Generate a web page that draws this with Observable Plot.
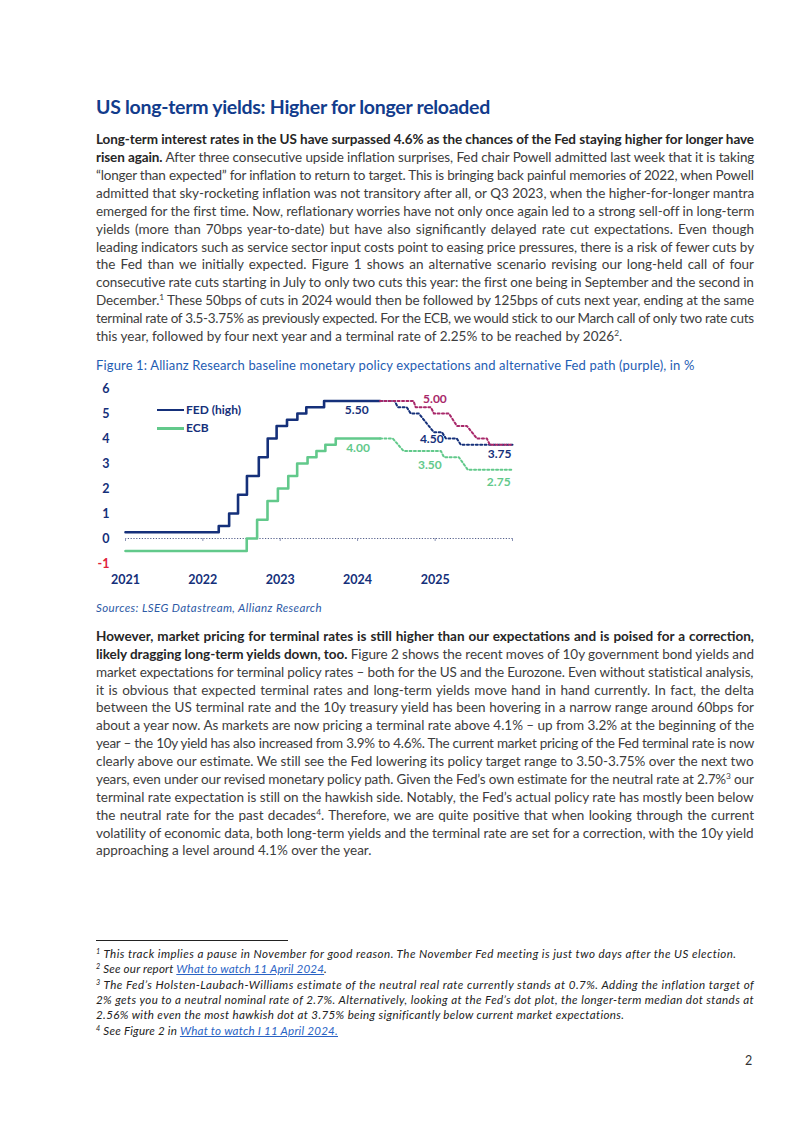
<!DOCTYPE html>
<html><head><meta charset="utf-8">
<script src="https://cdn.jsdelivr.net/npm/d3@7"></script>
<script src="https://cdn.jsdelivr.net/npm/@observablehq/plot@0.6"></script>
<style>
body{margin:0;background:#fff;}
#page{position:relative;width:802px;height:1133px;overflow:hidden;font-family:Lato,"Open Sans",sans-serif;background:#fff;}
.ln{position:absolute;left:96px;white-space:nowrap;line-height:18px;height:18px;}
.body{font-size:13.5px;color:#3d3d3d;}
.body b{color:#262626;font-weight:700;}
sup{font-size:0.62em;line-height:0;vertical-align:0.55em;}
.fn{font-size:11.6px;font-style:italic;color:#222;line-height:15px;height:15px;}
.fn a{color:#2a63c4;text-decoration:underline;}
#title{position:absolute;left:96px;font-size:19.5px;font-weight:700;color:#123c8c;white-space:nowrap;line-height:24px;}
.caption{font-size:13px;color:#1f5db3;}
.sources{font-size:11.5px;font-style:italic;color:#2d5aa6;}
#chart{position:absolute;left:90px;top:378px;}
.leg{position:absolute;font-size:12px;font-weight:700;color:#15307a;white-space:nowrap;line-height:14px;}
.legline{position:absolute;height:2.6px;}
</style></head>
<body><div id="page"></div>
<script>
// ---------------- data ----------------
const fedDates = ["2021-01-01","2022-03-17","2022-05-05","2022-06-16","2022-07-28","2022-09-22","2022-11-03","2022-12-15","2023-02-02","2023-03-23","2023-05-04","2023-07-27","2024-04-16"];
const fedValues = [0.25,0.5,1.0,1.75,2.5,3.25,4.0,4.5,4.75,5.0,5.25,5.5,5.5];
const ecbDates = ["2021-01-01","2022-07-27","2022-09-14","2022-11-02","2022-12-21","2023-02-08","2023-03-22","2023-05-10","2023-06-21","2023-08-02","2023-09-20","2024-04-16"];
const ecbValues = [-0.5,0.0,0.75,1.5,2.0,2.5,3.0,3.25,3.5,3.75,4.0,4.0];
const fedBaseDates = ["2024-04-16","2024-06-24","2024-07-09","2024-08-20","2024-09-08","2024-10-16","2024-12-02","2024-12-26","2025-02-02","2025-02-21","2025-04-13","2025-05-02","2026-01-01"];
const fedBaseValues = [5.5,5.5,5.25,5.25,5.0,5.0,4.5,4.25,4.25,4.0,4.0,3.75,3.75];
const fedAltDates = ["2024-04-16","2024-09-21","2024-10-01","2024-12-12","2024-12-26","2025-03-07","2025-04-14","2025-05-31","2025-07-17","2025-09-02","2025-09-16","2026-01-01"];
const fedAltValues = [5.5,5.5,5.25,5.25,5.0,5.0,4.5,4.5,4.0,4.0,3.75,3.75];
const ecbProjDates = ["2024-04-16","2024-06-15","2024-08-05","2025-01-28","2025-02-12","2025-04-23","2025-06-04","2026-01-01"];
const ecbProjValues = [4.0,4.0,3.5,3.5,3.25,3.25,2.75,2.75];
const labelTexts = ["5.50","4.00","5.00","4.50","3.75","3.50","2.75"];
const labelDates = ["2023-12-28","2024-01-03","2024-12-31","2024-12-16","2025-11-01","2024-12-07","2025-10-28"];
const labelValues = [5.12,3.61,5.59,3.99,3.36,2.95,2.25];
const labelSeries = ["fed","ecb","alt","fed","fed","ecb","ecb"];
const yearTicks = ["2021","2022","2023","2024","2025"];
const gridYears = ["2021","2022","2023","2024","2025","2026"];
const yTicks = [0,1,2,3,4,5,6];
const yNegTicks = [-1];
const legendNames = ["FED (high)","ECB"];

const titleText = "US long-term yields: Higher for longer reloaded";
const p1Lines = [
 "<b>Long-term interest rates in the US have surpassed 4.6% as the chances of the Fed staying higher for longer have</b>",
 "<b>risen again.</b> After three consecutive upside inflation surprises, Fed chair Powell admitted last week that it is taking",
 "“longer than expected” for inflation to return to target. This is bringing back painful memories of 2022, when Powell",
 "admitted that sky-rocketing inflation was not transitory after all, or Q3 2023, when the higher-for-longer mantra",
 "emerged for the first time. Now, reflationary worries have not only once again led to a strong sell-off in long-term",
 "yields (more than 70bps year-to-date) but have also significantly delayed rate cut expectations. Even though",
 "leading indicators such as service sector input costs point to easing price pressures, there is a risk of fewer cuts by",
 "the Fed than we initially expected. Figure 1 shows an alternative scenario revising our long-held call of four",
 "consecutive rate cuts starting in July to only two cuts this year: the first one being in September and the second in",
 "December.<sup>1</sup> These 50bps of cuts in 2024 would then be followed by 125bps of cuts next year, ending at the same",
 "terminal rate of 3.5-3.75% as previously expected. For the ECB, we would stick to our March call of only two rate cuts",
 "this year, followed by four next year and a terminal rate of 2.25% to be reached by 2026<sup>2</sup>."
];
const captionText = "Figure 1: Allianz Research baseline monetary policy expectations and alternative Fed path (purple), in %";
const sourcesText = "Sources: LSEG Datastream, Allianz Research";
const p2Lines = [
 "<b>However, market pricing for terminal rates is still higher than our expectations and is poised for a correction,</b>",
 "<b>likely dragging long-term yields down, too.</b> Figure 2 shows the recent moves of 10y government bond yields and",
 "market expectations for terminal policy rates – both for the US and the Eurozone. Even without statistical analysis,",
 "it is obvious that expected terminal rates and long-term yields move hand in hand currently. In fact, the delta",
 "between the US terminal rate and the 10y treasury yield has been hovering in a narrow range around 60bps for",
 "about a year now. As markets are now pricing a terminal rate above 4.1% – up from 3.2% at the beginning of the",
 "year – the 10y yield has also increased from 3.9% to 4.6%. The current market pricing of the Fed terminal rate is now",
 "clearly above our estimate. We still see the Fed lowering its policy target range to 3.50-3.75% over the next two",
 "years, even under our revised monetary policy path. Given the Fed’s own estimate for the neutral rate at 2.7%<sup>3</sup> our",
 "terminal rate expectation is still on the hawkish side. Notably, the Fed’s actual policy rate has mostly been below",
 "the neutral rate for the past decades<sup>4</sup>. Therefore, we are quite positive that when looking through the current",
 "volatility of economic data, both long-term yields and the terminal rate are set for a correction, with the 10y yield",
 "approaching a level around 4.1% over the year."
];
const fnLines = [
 "<sup>1</sup> This track implies a pause in November for good reason. The November Fed meeting is just two days after the US election.",
 "<sup>2</sup> See our report <a>What to watch 11 April 2024</a>.",
 "<sup>3</sup> The Fed’s Holsten-Laubach-Williams estimate of the neutral real rate currently stands at 0.7%. Adding the inflation target of",
 "2% gets you to a neutral nominal rate of 2.7%. Alternatively, looking at the Fed’s dot plot, the longer-term median dot stands at",
 "2.56% with even the most hawkish dot at 3.75% being significantly below current market expectations.",
 "<sup>4</sup> See Figure 2 in <a>What to watch I 11 April 2024.</a>"
];
const fnWidths = [640, 231, 658, 658, 528, 242];
const pageNumber = "2";

// ---------------- colors ----------------
const NAVY = "#15307a", GREEN = "#62c98b", PURPLE = "#a8286a", RED = "#e0213b";
const colorOf = {fed: NAVY, ecb: GREEN, alt: PURPLE};

const page = document.getElementById("page");
function addLine(html, cls, y, h, target, mode) {
  const d = document.createElement("div");
  d.className = "ln " + cls;
  d.style.top = (y - h / 2) + "px";
  d.innerHTML = "<span>" + html + "</span>";
  page.appendChild(d);
  const sp = d.firstChild;
  const w = sp.getBoundingClientRect().width;
  const txt = sp.textContent;
  const nChars = txt.length;
  const nSpaces = (txt.match(/ /g) || []).length;
  if (target) {
    if (w > target || mode === "exact") {
      sp.style.letterSpacing = ((target - w) / nChars) + "px";
    } else if (mode === "justify" && nSpaces > 0) {
      sp.style.wordSpacing = ((target - w) / nSpaces) + "px";
    }
  }
  return d;
}

// title
const t = document.createElement("div");
t.id = "title"; t.style.top = (107 - 12) + "px";
t.innerHTML = "<span>" + titleText + "</span>";
page.appendChild(t);
{ const sp = t.firstChild; const w = sp.getBoundingClientRect().width;
  sp.style.letterSpacing = ((394 - w) / titleText.length) + "px"; }

const LH = 17.87;
p1Lines.forEach((l, i) => addLine(l, "body", 139.3 + i * LH, 18, 658, i === p1Lines.length - 1 ? "fit" : "justify"));
addLine(captionText, "caption", 364.5, 18, 599, "exact");
addLine(sourcesText, "sources", 607.5, 18, 226, "exact");
p2Lines.forEach((l, i) => addLine(l, "body", 636 + i * LH, 18, 658, i === p2Lines.length - 1 ? "fit" : "justify"));

// footnote rule
const rule = document.createElement("div");
rule.style.cssText = "position:absolute;left:96px;top:940px;width:192px;height:1px;background:#222;";
page.appendChild(rule);
fnLines.forEach((l, i) => addLine(l, "fn", 953.5 + i * 15.3, 15, fnWidths[i], "exact"));

const pn = document.createElement("div");
pn.style.cssText = "position:absolute;left:745px;top:1053px;font-size:12.5px;color:#333;";
pn.textContent = pageNumber;
page.appendChild(pn);

// ---------------- chart ----------------
const P = d3.timeParse("%Y-%m-%d");
const mk = (dates, vals) => dates.map((d, i) => ({date: P(d), value: vals[i]}));
const fed = mk(fedDates, fedValues);
const ecb = mk(ecbDates, ecbValues);
const fedBase = mk(fedBaseDates, fedBaseValues);
const fedAlt = mk(fedAltDates, fedAltValues);
const ecbProj = mk(ecbProjDates, ecbProjValues);
const labels = labelTexts.map((s, i) => ({text: s, date: P(labelDates[i]), value: labelValues[i], series: labelSeries[i]}));
const Y = d3.timeParse("%Y");
const DOTS = "2,2.4";

const chart = Plot.plot({
  width: 432, height: 215,
  marginLeft: 35, marginRight: 10, marginTop: 10, marginBottom: 30,
  x: {type: "time", domain: [Y("2021"), Y("2026")]},
  y: {domain: [-1, 6]},
  style: {fontFamily: "Lato, 'Open Sans', sans-serif", background: "transparent"},
  marks: [
    Plot.ruleY([0], {stroke: "#55608c", strokeWidth: 1.2, strokeDasharray: "1.2,1.6"}),
    Plot.ruleX(gridYears.map(Y), {y1: 0, y2: -0.12, stroke: "#8a93b5", strokeWidth: 1}),
    Plot.axisX(yearTicks.map(Y), {tickSize: 0, tickPadding: 12, tickFormat: "%Y", fill: NAVY, fontWeight: 700, fontSize: 12.5, label: null}),
    Plot.axisY(yTicks, {tickSize: 0, tickPadding: 16, tickFormat: d => String(d), fill: NAVY, fontWeight: 700, fontSize: 12.5, label: null}),
    Plot.axisY(yNegTicks, {tickSize: 0, tickPadding: 16, tickFormat: d => String(d), fill: RED, fontWeight: 700, fontSize: 12.5, label: null}),
    Plot.line(ecb, {x: "date", y: "value", curve: "step-after", stroke: GREEN, strokeWidth: 2.6}),
    Plot.line(fed, {x: "date", y: "value", curve: "step-after", stroke: NAVY, strokeWidth: 2.6}),
    Plot.line(ecbProj, {x: "date", y: "value", stroke: GREEN, strokeWidth: 2, strokeDasharray: DOTS}),
    Plot.line(fedBase, {x: "date", y: "value", stroke: NAVY, strokeWidth: 2, strokeDasharray: DOTS}),
    Plot.line(fedAlt, {x: "date", y: "value", stroke: PURPLE, strokeWidth: 2, strokeDasharray: DOTS}),
    ...["fed", "ecb", "alt"].map(s => Plot.text(labels.filter(d => d.series === s), {x: "date", y: "value", text: "text", fill: colorOf[s], fontWeight: 700, fontSize: 12}))
  ]
});
chart.id = "chart";
page.appendChild(chart);

// legend (inside chart area)
[[legendNames[0], NAVY, 410], [legendNames[1], GREEN, 428.5]].forEach(([name, c, y]) => {
  const l = document.createElement("div");
  l.className = "legline"; l.style.cssText += `left:157px;width:27px;top:${y - 1.3}px;background:${c};`;
  page.appendChild(l);
  const tx = document.createElement("div");
  tx.className = "leg"; tx.style.left = "186px"; tx.style.top = (y - 7.5) + "px";
  tx.textContent = name;
  page.appendChild(tx);
});
</script>
</body></html>
